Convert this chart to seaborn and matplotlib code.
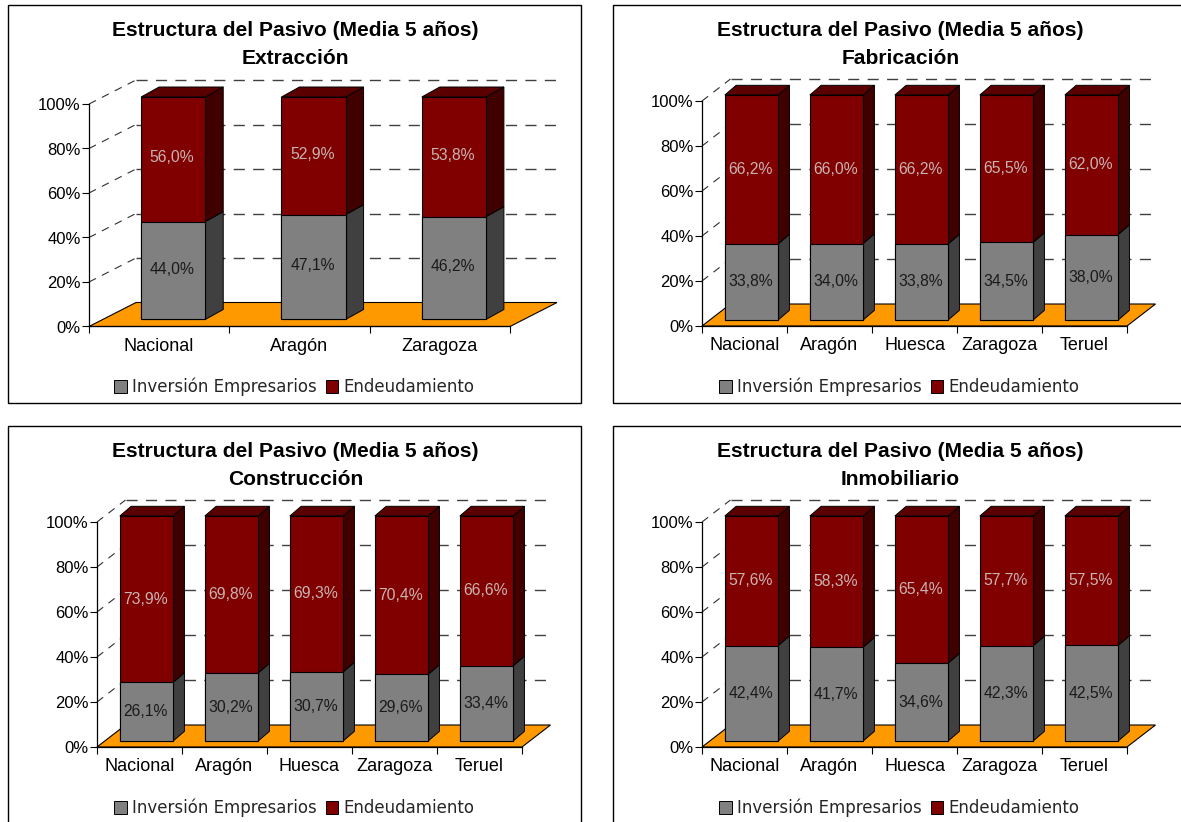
import matplotlib
matplotlib.use("Agg")
import matplotlib.pyplot as plt
import seaborn as sns
from matplotlib.patches import Polygon, Rectangle
from matplotlib.transforms import Affine2D, IdentityTransform

W, H = 1181, 822

cats3 = ["Nacional", "Aragón", "Zaragoza"]
cats5 = ["Nacional", "Aragón", "Huesca", "Zaragoza", "Teruel"]

extraccion_inv = [44.0, 47.1, 46.2]
extraccion_end = [56.0, 52.9, 53.8]
fabricacion_inv = [33.8, 34.0, 33.8, 34.5, 38.0]
fabricacion_end = [66.2, 66.0, 66.2, 65.5, 62.0]
construccion_inv = [26.1, 30.2, 30.7, 29.6, 33.4]
construccion_end = [73.9, 69.8, 69.3, 70.4, 66.6]
inmobiliario_inv = [42.4, 41.7, 34.6, 42.3, 42.5]
inmobiliario_end = [57.6, 58.3, 65.4, 57.7, 57.5]

yticks = [0, 20, 40, 60, 80, 100]
GRAY, GRAY_SIDE = "#808080", "#404040"
RED, RED_SIDE, RED_TOP = "#800000", "#400000", "#5a0000"
ORANGE = "#ff9900"

sns.set_theme(style="white")
plt.rcParams["font.family"] = ["Liberation Sans", "DejaVu Sans"]

fig = plt.figure(figsize=(W / 100, H / 100), dpi=100, facecolor="white")


def fx(px):
    return px / W


def fy(py):
    return 1 - py / H


def draw_panel(frame, name, cats, inv, end, left, right, y0, y100, depth, bar_off, bar_depth, width):
    # frame is left, top, right, bottom in image pixels
    fig.add_artist(Rectangle((fx(frame[0]), fy(frame[3])), (frame[2] - frame[0]) / W,
                             (frame[3] - frame[1]) / H, transform=fig.transFigure,
                             fill=False, edgecolor="black", linewidth=1))
    ax = fig.add_axes([fx(left), fy(y0), (right - left) / W, (y0 - y100) / H])
    ax.patch.set_alpha(0)
    n = len(cats)
    total = [a + b for a, b in zip(inv, end)]

    sns.barplot(x=cats, y=total, color=RED, saturation=1, width=width, ax=ax,
                edgecolor="black", linewidth=0.8, zorder=4)
    sns.barplot(x=cats, y=inv, color=GRAY, saturation=1, width=width, ax=ax,
                edgecolor="black", linewidth=0.8, zorder=4)
    ax.set_xlim(-0.5, n - 0.5)
    ax.set_ylim(0, 100)

    back = ax.transData + Affine2D().translate(depth[0], depth[1])
    bar_tr = ax.transData + Affine2D().translate(bar_off[0], bar_off[1])
    label_dy = 1.5 if n == 3 else 0
    label_tr = ax.transData + Affine2D().translate(bar_off[0] - 1, bar_off[1] + label_dy)

    # floor
    floor = [ax.transData.transform(p) for p in [(-0.5, 0), (n - 0.5, 0)]]
    floor += [back.transform((n - 0.5, 0)), back.transform((-0.5, 0))]
    ax.add_patch(Polygon(floor, closed=True, transform=IdentityTransform(), facecolor=ORANGE,
                         edgecolor="black", linewidth=0.8, zorder=2, clip_on=False))

    # dashed grid on the walls
    for v in yticks[1:]:
        ax.plot([-0.5, n - 0.5], [v, v], transform=back, color="#404040", linewidth=1,
                linestyle=(0, (8, 6)), zorder=1, clip_on=False)
        a = ax.transData.transform((-0.5, v))
        b = back.transform((-0.5, v))
        ax.plot([a[0], b[0]], [a[1], b[1]], transform=IdentityTransform(), color="#303030",
                linewidth=0.8, linestyle=(0, (7, 6)), zorder=1, clip_on=False)

    # bars: move fronts back into the floor and add the sides and tops
    reds = ax.patches[:n]
    grays = ax.patches[n:2 * n]
    ddx, ddy = bar_depth
    for i, (r, g) in enumerate(zip(reds, grays)):
        r.set_transform(bar_tr)
        g.set_transform(bar_tr)
        r.set_clip_on(False)
        g.set_clip_on(False)
        x1 = r.get_x() + r.get_width()
        x0 = r.get_x()
        p_b = bar_tr.transform((x1, 0))
        p_m = bar_tr.transform((x1, g.get_height()))
        p_t = bar_tr.transform((x1, r.get_height()))
        p_l = bar_tr.transform((x0, r.get_height()))
        for pts, col in [
            ([p_b, p_m, p_m + (ddx, ddy), p_b + (ddx, ddy)], GRAY_SIDE),
            ([p_m, p_t, p_t + (ddx, ddy), p_m + (ddx, ddy)], RED_SIDE),
            ([p_l, p_t, p_t + (ddx, ddy), p_l + (ddx, ddy)], RED_TOP),
        ]:
            ax.add_patch(Polygon(pts, closed=True, transform=IdentityTransform(), facecolor=col,
                                 edgecolor="black", linewidth=0.7, zorder=3, clip_on=False))
        xc = x0 + r.get_width() / 2
        ax.text(xc, inv[i] / 2, f"{inv[i]:.1f}%".replace(".", ","), transform=label_tr,
                ha="center", va="center", fontsize=11.3, color="#1a1a1a", zorder=6)
        ax.text(xc, inv[i] + end[i] / 2, f"{end[i]:.1f}%".replace(".", ","), transform=label_tr,
                ha="center", va="center", fontsize=11.3, color="#c8b4b4", zorder=6)

    # axes
    sns.despine(ax=ax, top=True, right=True)
    for s in ["left", "bottom"]:
        ax.spines[s].set_color("black")
        ax.spines[s].set_linewidth(0.9)
        ax.spines[s].set_zorder(5)
    ax.set_yticks(yticks)
    ax.set_yticklabels([f"{v}%" for v in yticks], fontsize=12, color="black")
    ax.tick_params(axis="y", left=True, length=5, width=0.8, color="black", pad=1)
    ax.set_xticks(range(n))
    ax.set_xticklabels(cats, fontsize=13, color="black")
    ax.tick_params(axis="x", which="major", bottom=False, pad=2)
    ax.set_xticks([i - 0.5 for i in range(n + 1)], minor=True)
    ax.tick_params(axis="x", which="minor", bottom=True, length=5, width=0.8, color="black")
    ax.set_xlabel("")
    ax.set_ylabel("")

    # titles
    cx = (frame[0] + frame[2]) / 2 + 1
    fig.text(fx(cx), fy(frame[1] + 25.5), "Estructura del Pasivo (Media 5 años)", ha="center", va="center",
             fontsize=15.1, fontweight="bold", color="black")
    fig.text(fx(cx), fy(frame[1] + 53.5), name, ha="center", va="center",
             fontsize=15.1, fontweight="bold", color="black")

    # legend
    handles = [Rectangle((0, 0), 1, 1, facecolor=GRAY, edgecolor="black", linewidth=0.7),
               Rectangle((0, 0), 1, 1, facecolor=RED, edgecolor="black", linewidth=0.7)]
    fig.legend(handles, ["Inversión Empresarios", "Endeudamiento"], loc="center", ncol=2,
               bbox_to_anchor=(fx(cx - 1), fy(frame[1] + 382)), frameon=False,
               handlelength=0.75, handleheight=0.75, handletextpad=0.35, columnspacing=0.5,
               prop={"family": "DejaVu Sans", "size": 12})


draw_panel((8, 5, 581, 403), "Extracción", cats3, extraccion_inv, extraccion_end,
           89, 510, 326.5, 104, (47, 24), (14, 7), (18, 10), 0.457)
draw_panel((613, 5, 1186, 403), "Fabricación", cats5, fabricacion_inv, fabricacion_end,
           702, 1127, 326, 101, (28.5, 22), (7, 6), (11.3, 9.7), 0.627)
draw_panel((8, 426, 581, 830), "Construcción", cats5, construccion_inv, construccion_end,
           97, 522, 747, 522, (28.5, 22), (7, 6), (11.3, 9.7), 0.627)
draw_panel((613, 426, 1186, 830), "Inmobiliario", cats5, inmobiliario_inv, inmobiliario_end,
           702, 1127, 747, 522, (28.5, 22), (7, 6), (11.3, 9.7), 0.627)

fig.savefig("out.png", dpi=100, facecolor="white")
